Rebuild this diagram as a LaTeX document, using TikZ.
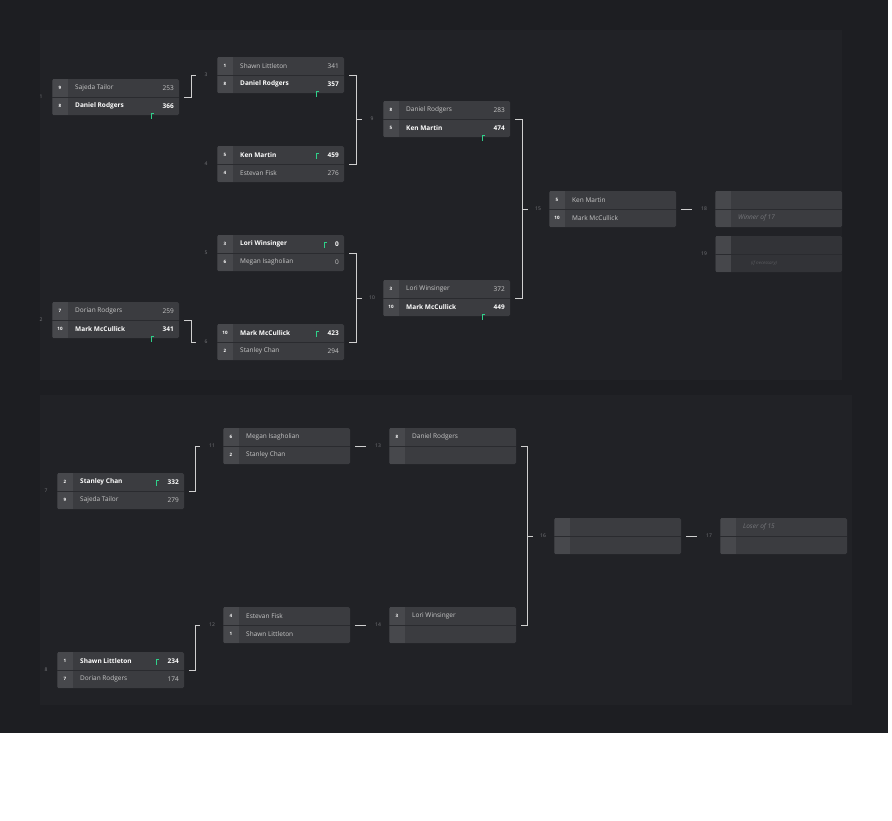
\documentclass[tikz,border=0pt]{standalone}
\usepackage{fontspec}
\setmainfont{Open Sans}
\definecolor{bgc}{HTML}{1D1E22}
\definecolor{panc}{HTML}{212226}
\definecolor{boxc}{HTML}{3B3C40}
\definecolor{seedc}{HTML}{4B4C50}
\definecolor{sepc}{HTML}{2A2B2F}
\definecolor{txtc}{HTML}{C8C8C8}
\definecolor{lblc}{HTML}{77787C}
\definecolor{conc}{HTML}{D0D0D0}
\definecolor{winc}{HTML}{2FD08A}
\tikzset{
  mbox/.style={fill=boxc,minimum width=127pt,minimum height=36pt,inner sep=0pt,outer sep=0pt,rounded corners=1.5pt,anchor=north west},
  conn/.style={draw=conc,line width=0.9pt},
  lbl/.style={text=lblc,font=\fontsize{5}{6}\selectfont,inner sep=0pt},
  nm/.style={text=txtc,font=\fontsize{6.5}{8}\selectfont,anchor=west,inner sep=0pt},
  nmb/.style={text=white,font=\bfseries\fontsize{6.5}{8}\selectfont,anchor=west,inner sep=0pt},
  sd/.style={text=white,font=\bfseries\fontsize{4.5}{5}\selectfont,inner sep=0pt},
  it/.style={text=lblc,font=\itshape\fontsize{6.5}{8}\selectfont,anchor=west,inner sep=0pt}
}
\newcommand\mbx[5][boxc]{%
  \node[mbox,fill=#1] (#2) at (#3pt,-#4pt) {};
  \fill[seedc,opacity=0.8] ([xshift=0.5pt]#2.north west) rectangle ([xshift=16pt]#2.south west);
  \draw[sepc,line width=0.6pt] (#2.west) -- (#2.east);
  \node[lbl] at ([xshift=-11pt]#2.west) {#5};}
% \prow{id}{row}{seed}{name}{score}{style}
\newcommand\prow[6]{%
  \ifnum#2=1 \coordinate (pr) at ([yshift=-9pt]#1.north west);\coordinate (pe) at ([yshift=-9pt]#1.north east);
  \else \coordinate (pr) at ([yshift=9pt]#1.south west);\coordinate (pe) at ([yshift=9pt]#1.south east);\fi
  \node[sd] at ([xshift=8pt]pr) {#3};
  \node[#6] at ([xshift=23pt]pr) {#4};
  \node[#6,anchor=east] at ([xshift=-5pt]pe) {#5};}
\newcommand\wm[1]{%
  \draw[winc,line width=0.9pt] ([xshift=-28pt,yshift=-3.5pt]#1.south east) -- ++(0,5pt) -- ++(3pt,0);}
\begin{document}
\begin{tikzpicture}[x=1pt,y=1pt]
\useasboundingbox (0,0) rectangle (892,-820);
\fill[white] (0,0) rectangle (892,-820);
\fill[bgc] (0,0) rectangle (888,-733);
\fill[panc] (40,-30) rectangle (842,-380);
\fill[panc] (40,-395) rectangle (852,-705);
% upper bracket
\mbx{M1}{52}{79}{1}\prow{M1}{1}{9}{Sajeda Tailor}{253}{nm}\prow{M1}{2}{8}{Daniel Rodgers}{366}{nmb}\wm{M1}
\mbx{M2}{52}{302}{2}\prow{M2}{1}{7}{Dorian Rodgers}{259}{nm}\prow{M2}{2}{10}{Mark McCullick}{341}{nmb}\wm{M2}
\mbx{M3}{217}{57}{3}\prow{M3}{1}{1}{Shawn Littleton}{341}{nm}\prow{M3}{2}{8}{Daniel Rodgers}{357}{nmb}\wm{M3}
\mbx{M4}{217}{146}{4}\prow{M4}{1}{5}{Ken Martin}{459}{nmb}\prow{M4}{2}{4}{Estevan Fisk}{276}{nm}
\draw[winc,line width=0.9pt] ([xshift=-28pt,yshift=-12.5pt]M4.north east) -- ++(0,5pt) -- ++(3pt,0);
\mbx{M5}{217}{235}{5}\prow{M5}{1}{3}{Lori Winsinger}{0}{nmb}\prow{M5}{2}{6}{Megan Isagholian}{0}{nm}
\draw[winc,line width=0.9pt] ([xshift=-20pt,yshift=-12.5pt]M5.north east) -- ++(0,5pt) -- ++(3pt,0);
\mbx{M6}{217}{324}{6}\prow{M6}{1}{10}{Mark McCullick}{423}{nmb}\prow{M6}{2}{2}{Stanley Chan}{294}{nm}
\draw[winc,line width=0.9pt] ([xshift=-28pt,yshift=-12.5pt]M6.north east) -- ++(0,5pt) -- ++(3pt,0);
\mbx{M9}{383}{101}{9}\prow{M9}{1}{8}{Daniel Rodgers}{283}{nm}\prow{M9}{2}{5}{Ken Martin}{474}{nmb}\wm{M9}
\mbx{M10}{383}{280}{10}\prow{M10}{1}{3}{Lori Winsinger}{372}{nm}\prow{M10}{2}{10}{Mark McCullick}{449}{nmb}\wm{M10}
\mbx{M15}{549}{191}{15}\prow{M15}{1}{5}{Ken Martin}{}{nm}\prow{M15}{2}{10}{Mark McCullick}{}{nm}
\mbx{M18}{715}{191}{18}\node[it] at ([xshift=23pt,yshift=9pt]M18.south west) {Winner of 17};
\mbx[boxc!70!bgc]{M19}{715}{236}{19}\node[it,font=\itshape\fontsize{4.5}{5}\selectfont,text=lblc!70!bgc] at ([xshift=36pt,yshift=9pt]M19.south west) {(if necessary)};
% lower bracket
\mbx{M7}{57}{473}{7}\prow{M7}{1}{2}{Stanley Chan}{332}{nmb}\prow{M7}{2}{9}{Sajeda Tailor}{279}{nm}
\draw[winc,line width=0.9pt] ([xshift=-28pt,yshift=-12.5pt]M7.north east) -- ++(0,5pt) -- ++(3pt,0);
\mbx{M8}{57}{652}{8}\prow{M8}{1}{1}{Shawn Littleton}{234}{nmb}\prow{M8}{2}{7}{Dorian Rodgers}{174}{nm}
\draw[winc,line width=0.9pt] ([xshift=-28pt,yshift=-12.5pt]M8.north east) -- ++(0,5pt) -- ++(3pt,0);
\mbx{M11}{223}{428}{11}\prow{M11}{1}{6}{Megan Isagholian}{}{nm}\prow{M11}{2}{2}{Stanley Chan}{}{nm}
\mbx{M12}{223}{607}{12}\prow{M12}{1}{4}{Estevan Fisk}{}{nm}\prow{M12}{2}{1}{Shawn Littleton}{}{nm}
\mbx{M13}{389}{428}{13}\prow{M13}{1}{8}{Daniel Rodgers}{}{nm}
\mbx{M14}{389}{607}{14}\prow{M14}{1}{3}{Lori Winsinger}{}{nm}
\mbx{M16}{554}{518}{16}
\mbx{M17}{720}{518}{17}\node[it] at ([xshift=23pt,yshift=-9pt]M17.north west) {Loser of 15};
% connectors
\draw[conn] ([xshift=5pt]M1.east) -| ([xshift=12pt]M1.east |- M3.west) -- ([xshift=17pt]M1.east |- M3.west);
\draw[conn] ([xshift=5pt]M2.east) -| ([xshift=12pt]M2.east |- M6.west) -- ([xshift=17pt]M2.east |- M6.west);
\draw[conn] ([xshift=5pt]M3.east) -| ([xshift=12pt]M4.east) -- ([xshift=5pt]M4.east);
\draw[conn] ([xshift=12pt]M3.east |- M9.west) -- ([xshift=18pt]M3.east |- M9.west);
\draw[conn] ([xshift=5pt]M5.east) -| ([xshift=12pt]M6.east) -- ([xshift=5pt]M6.east);
\draw[conn] ([xshift=12pt]M5.east |- M10.west) -- ([xshift=18pt]M5.east |- M10.west);
\draw[conn] ([xshift=5pt]M9.east) -| ([xshift=12pt]M10.east) -- ([xshift=5pt]M10.east);
\draw[conn] ([xshift=12pt]M9.east |- M15.west) -- ([xshift=18pt]M9.east |- M15.west);
\draw[conn] ([xshift=5pt]M15.east) -- ([xshift=16pt]M15.east);
\draw[conn] ([xshift=5pt]M7.east) -| ([xshift=11pt]M7.east |- M11.west) -- ([xshift=16pt]M7.east |- M11.west);
\draw[conn] ([xshift=5pt]M8.east) -| ([xshift=11pt]M8.east |- M12.west) -- ([xshift=16pt]M8.east |- M12.west);
\draw[conn] ([xshift=5pt]M11.east) -- ([xshift=16pt]M11.east);
\draw[conn] ([xshift=5pt]M12.east) -- ([xshift=16pt]M12.east);
\draw[conn] ([xshift=5pt]M13.east) -| ([xshift=11pt]M14.east) -- ([xshift=5pt]M14.east);
\draw[conn] ([xshift=11pt]M13.east |- M16.west) -- ([xshift=17pt]M13.east |- M16.west);
\draw[conn] ([xshift=5pt]M16.east) -- ([xshift=16pt]M16.east);
\end{tikzpicture}
\end{document}
